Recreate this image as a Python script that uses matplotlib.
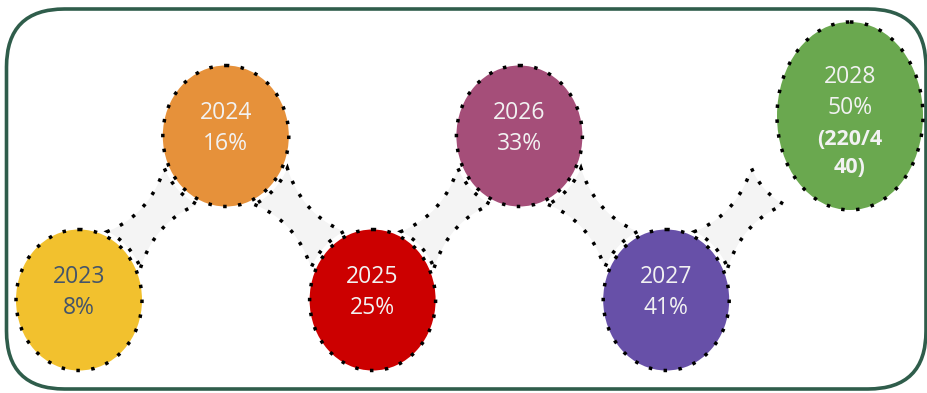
import numpy as np
import matplotlib
matplotlib.use("Agg")
import matplotlib.pyplot as plt
from matplotlib.patches import Ellipse, Polygon, FancyBboxPatch

# data
years = ["2023", "2024", "2025", "2026", "2027", "2028"]
pcts = ["8%", "16%", "25%", "33%", "41%", "50%"]
extra = ["", "", "", "", "", "(220/4\n40)"]
colors = ["#F2C12E", "#E6913A", "#CC0000", "#A54E79", "#6750A8", "#6AA84F"]
text_colors = ["#44546A", "#F2F2F2", "#F2F2F2", "#F2F2F2", "#F2F2F2", "#F2F2F2"]

W, H = 928, 393
fig = plt.figure(figsize=(W / 100, H / 100), dpi=100)
ax = fig.add_axes([0, 0, 1, 1])
ax.set_xlim(0, W)
ax.set_ylim(H, 0)
ax.axis("off")

DOT = dict(edgecolor="black", linewidth=2.5, linestyle=(0, (1, 3.3)), capstyle="butt")
FONT = "Open Sans"

# slot layout (pixel units)
x0, step = 79, 146.8
y_low, y_high = 300, 136
rx, ry = 63, 70.5
slots = [(x0 + i * step, y_low if i % 2 == 0 else y_high) for i in range(6)]

# border
border = FancyBboxPatch((6.5, 9), 919.5, 380, boxstyle="round,pad=0,rounding_size=58",
                        facecolor="white", edgecolor="#2F5D4B", linewidth=2.6, zorder=0)
ax.add_patch(border)


def ell_pt(c, sx, sy, a):
    return np.array([c[0] + sx * np.cos(a), c[1] + sy * np.sin(a)])


def connector(ca, cb, gap=5, delta=np.radians(20), sag=10):
    sx, sy = rx + gap, ry + gap
    phi = np.arctan2((cb[1] - ca[1]) / sy, (cb[0] - ca[0]) / sx)
    mid = (np.array(ca) + np.array(cb)) / 2
    t = np.linspace(0, 1, 40)

    def bez(p0, p2):
        m = (p0 + p2) / 2
        v = mid - m
        v = v / np.linalg.norm(v)
        ctrl = m + v * 2 * sag
        return ((1 - t) ** 2)[:, None] * p0 + (2 * t * (1 - t))[:, None] * ctrl + (t ** 2)[:, None] * p2

    a1 = ell_pt(ca, sx, sy, phi + delta)
    a2 = ell_pt(ca, sx, sy, phi - delta)
    b1 = ell_pt(cb, sx, sy, phi + np.pi - delta)
    b2 = ell_pt(cb, sx, sy, phi + np.pi + delta)
    arc_b = np.array([ell_pt(cb, sx, sy, a) for a in np.linspace(phi + np.pi - delta, phi + np.pi + delta, 20)])
    arc_a = np.array([ell_pt(ca, sx, sy, a) for a in np.linspace(phi - delta, phi + delta, 20)])
    pts = np.vstack([bez(a1, b1), arc_b, bez(b2, a2), arc_a])
    ax.add_patch(Polygon(pts, closed=True, facecolor="#F4F4F4", zorder=1, **DOT))


# connectors (last one points towards the next slot, ending short of the big circle)
for i in range(5):
    connector(slots[i], slots[i + 1])

# circles
for i, yr in enumerate(years):
    cx, cy = slots[i]
    w, h = 2 * rx, 2 * ry
    if extra[i]:
        cx, cy, w, h = 850, 116, 146, 188
    ax.add_patch(Ellipse((cx, cy), w, h, facecolor=colors[i], zorder=2, **DOT))
    tc = text_colors[i]
    if extra[i]:
        ax.text(cx, cy - 33, yr, ha="center", va="baseline", fontsize=16.5, family=FONT, color=tc, zorder=3)
        ax.text(cx, cy - 2, pcts[i], ha="center", va="baseline", fontsize=16.5, family=FONT, color=tc, zorder=3)
        for k, line in enumerate(extra[i].split("\n")):
            ax.text(cx, cy + 29 + 28 * k, line, ha="center", va="baseline", fontsize=15.5,
                    family=FONT, fontweight="bold", color=tc, zorder=3)
    else:
        ax.text(cx, cy - 17, yr, ha="center", va="baseline", fontsize=16.5, family=FONT, color=tc, zorder=3)
        ax.text(cx, cy + 14, pcts[i], ha="center", va="baseline", fontsize=16.5, family=FONT, color=tc, zorder=3)

fig.savefig("out.png", dpi=100)
